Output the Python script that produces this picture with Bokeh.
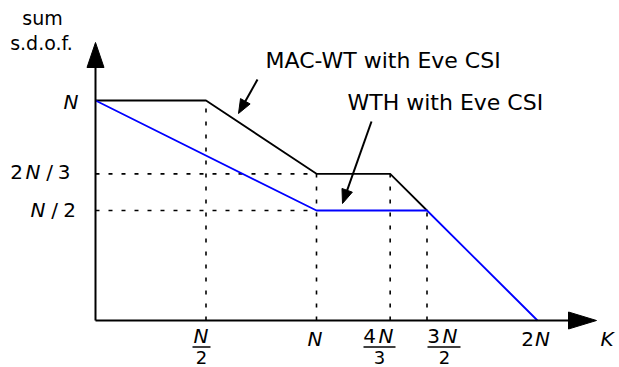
import math
from bokeh.plotting import figure
from bokeh.models import Range1d
from bokeh.core.properties import value
from bokeh.embed import file_html
from bokeh.resources import INLINE

# ---- data (in units of N) ----
mac_x = [0, 0.5, 1, 4/3, 1.5]
mac_y = [1, 1, 2/3, 2/3, 0.5]
wth_x = [0, 1, 1.5, 2]
wth_y = [1, 0.5, 0.5, 0]
vguide_x = [0.5, 1, 4/3, 1.5]
vguide_top = [1, 2/3, 2/3, 0.5]
hguide_y = [2/3, 0.5]
hguide_end = [1, 1]
xtick_vals = [0.5, 1, 4/3, 1.5, 2]
ytick_vals = [1, 2/3, 0.5]
series_labels = ["MAC-WT with Eve CSI", "WTH with Eve CSI"]
y_title = ["sum", "s.d.o.f."]
x_title = "K"

W, H = 619, 367
OX, OY = 95.0, 320.0
SX, SY = 221.0, 220.0

def X(px):
    return (px - OX) / SX

def Y(py):
    return (OY - py) / SY

p = figure(width=W, height=H, output_backend="svg", toolbar_location=None,
           x_range=Range1d(X(0), X(W)), y_range=Range1d(Y(H), Y(0)),
           min_border=0, min_border_left=0, min_border_right=0,
           min_border_top=0, min_border_bottom=0)
p.axis.visible = False
p.grid.visible = False
p.outline_line_color = None
p.background_fill_color = "white"
p.border_fill_color = "white"

FONT = value("DejaVu Sans")

# guides
for gx, gt in zip(vguide_x, vguide_top):
    p.line([gx, gx], [0, gt], line_color="black", line_width=1.6, line_dash="4 9")
for gy, ge in zip(hguide_y, hguide_end):
    p.line([0, ge], [gy, gy], line_color="black", line_width=1.6, line_dash="4 9")

# curves
p.line(mac_x, mac_y, line_color="black", line_width=1.8)
p.line(wth_x, wth_y, line_color="#0000ff", line_width=1.8)

# axes
p.line([0, X(572)], [0, 0], line_color="black", line_width=2)
p.line([0, 0], [0, Y(62)], line_color="black", line_width=2)
p.patch([X(568), X(596), X(568)], [Y(311.5), Y(320), Y(328.5)], color="black")
p.patch([X(86.5), X(95), X(103.5)], [Y(67), Y(42), Y(67)], color="black")

def arrow(x0, y0, x1, y1, L=14, Wd=5.5):
    dx, dy = x1 - x0, y1 - y0
    d = math.hypot(dx, dy)
    ux, uy = dx / d, dy / d
    bx, by = x1 - ux * L, y1 - uy * L
    p.line([X(x0), X(bx + ux * 2)], [Y(y0), Y(by + uy * 2)], line_color="black", line_width=2)
    nx, ny = -uy, ux
    p.patch([X(x1), X(bx + nx * Wd), X(bx - nx * Wd)],
            [Y(y1), Y(by + ny * Wd), Y(by - ny * Wd)], color="black")

arrow(257, 79, 238, 113)
arrow(371, 121, 342, 203)

def txt(s, cx, cy, size=19, italic=False, align="center"):
    p.text([X(cx)], [Y(cy)], text=[s], text_font=FONT,
           text_font_size=f"{size}px", text_align=align, text_baseline="middle",
           text_font_style="italic" if italic else "normal", text_color="black")

# annotation labels (vertical centres of capitals)
txt(series_labels[0], 265, 60, size=22, align="left")
txt(series_labels[1], 347, 102, size=22, align="left")

# y title
txt(y_title[0], 42, 17)
txt(y_title[1], 41, 42)

# y tick labels
txt("N", 70.5, 101, size=20, italic=True)
txt("2", 16, 171, size=20); txt("N", 32.5, 171, size=20, italic=True); txt("/", 49, 171, size=20); txt("3", 63.5, 171, size=20)
txt("N", 37.5, 209.5, size=20, italic=True); txt("/", 54, 209.5, size=20); txt("2", 69, 209.5, size=20)

# x tick labels
def bar(x0, x1, y):
    p.line([X(x0), X(x1)], [Y(y), Y(y)], line_color="black", line_width=1.4)

DEN_Y = 356.5
txt("N", 200.5, 335, size=20, italic=True); bar(192, 210, 346.5); txt("2", 201, DEN_Y, size=18)
txt("N", 314.5, 338.5, size=20, italic=True)
txt("4", 369, 335, size=20); txt("N", 385.5, 335, size=20, italic=True); bar(363, 395, 346.5); txt("3", 379, DEN_Y, size=18)
txt("3", 433, 335, size=20); txt("N", 449.5, 335, size=20, italic=True); bar(427, 460, 346.5); txt("2", 444, DEN_Y, size=18)
txt("2", 527, 338.5, size=20); txt("N", 542, 338.5, size=20, italic=True)
txt(x_title, 606.5, 338.5, size=20, italic=True)

open("out.html", "w").write(file_html(p, INLINE))
